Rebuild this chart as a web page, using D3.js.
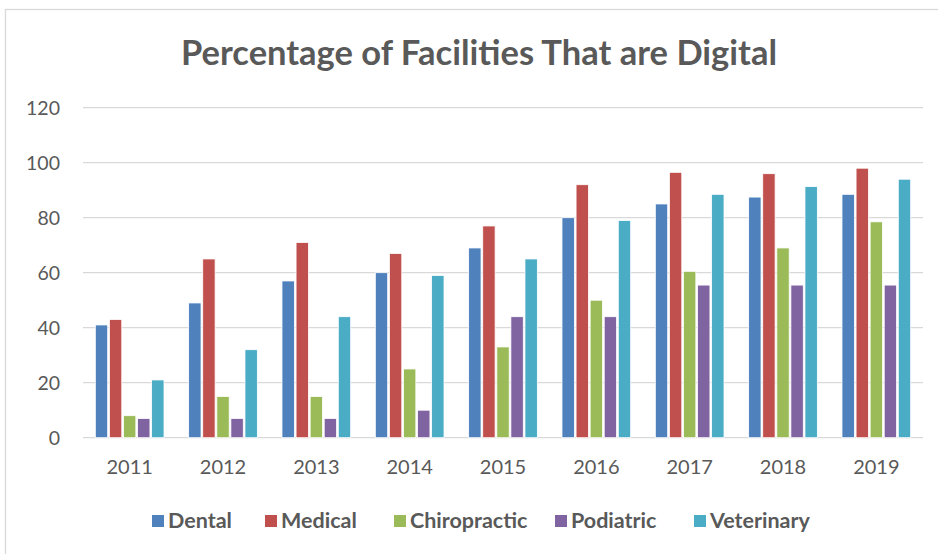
<!DOCTYPE html>
<html>
<head>
<meta charset="utf-8">
<script src="https://cdn.jsdelivr.net/npm/d3@7"></script>
<style>
  body { margin: 0; background: #fff; }
  text { font-family: Lato, "Open Sans", sans-serif; fill: #595959; }
</style>
</head>
<body>
<svg id="chart" width="938" height="554"></svg>
<script>
var years = ["2011", "2012", "2013", "2014", "2015", "2016", "2017", "2018", "2019"]
var series = ["Dental", "Medical", "Chiropractic", "Podiatric", "Veterinary"]
var colors = ["#4F81BD", "#C0504D", "#9BBB59", "#8064A2", "#4BACC6"]
var dental = [41, 49, 57, 60, 69, 80, 85, 87.5, 88.5]
var medical = [43, 65, 71, 67, 77, 92, 96.5, 96, 98]
var chiropractic = [8, 15, 15, 25, 33, 50, 60.5, 69, 78.5]
var podiatric = [7, 7, 7, 10, 44, 44, 55.5, 55.5, 55.5]
var veterinary = [21, 32, 44, 59, 65, 79, 88.5, 91.3, 94]
var yTicks = [0, 20, 40, 60, 80, 100, 120]

var values = [dental, medical, chiropractic, podiatric, veterinary]
var table = years.map(function(y, i) {
  return { year: y, vals: series.map(function(s, k) { return { key: s, value: values[k][i] }; }) };
});

var svg = d3.select("#chart"),
    margin = {top: 107.7, right: 15, bottom: 116.3, left: 83},
    width = 938 - margin.left - margin.right,
    height = 554 - margin.top - margin.bottom;

// outer frame
svg.append("rect")
  .attr("x", 5.5).attr("y", 9.5)
  .attr("width", 945).attr("height", 560)
  .attr("fill", "none").attr("stroke", "#d9d9d9").attr("stroke-width", 1.3);

svg.append("text")
  .attr("x", 479).attr("y", 65)
  .attr("text-anchor", "middle")
  .style("font-size", "34.5px").style("font-weight", "bold")
  .text("Percentage of Facilities That are Digital");

var g = svg.append("g").attr("transform", "translate(" + margin.left + "," + margin.top + ")");

var x0 = d3.scaleBand().domain(years).range([0, width]).paddingInner(0.264).paddingOuter(0.132),
    x1 = d3.scaleBand().domain(series).range([0, x0.bandwidth()]).paddingInner(0.12),
    y = d3.scaleLinear().domain([0, 120]).range([height, 0]),
    z = d3.scaleOrdinal().domain(series).range(colors);

// gridlines
g.selectAll(".grid").data(yTicks).enter().append("line")
  .attr("x1", 0).attr("x2", width)
  .attr("y1", function(d) { return y(d); }).attr("y2", function(d) { return y(d); })
  .attr("stroke", "#d9d9d9").attr("stroke-width", 1.3);

var yAxis = g.append("g").call(d3.axisLeft(y).tickValues(yTicks).tickSize(0).tickPadding(23));
yAxis.select(".domain").remove();
yAxis.selectAll("text").style("font-size", "19.5px").attr("fill", "#595959").attr("dy", "0.35em");

var xAxis = g.append("g").attr("transform", "translate(0," + height + ")")
  .call(d3.axisBottom(x0).tickSize(0).tickPadding(22));
xAxis.select(".domain").remove();
xAxis.selectAll("text").style("font-size", "20px").attr("fill", "#595959");

g.selectAll(".group").data(table).enter().append("g")
  .attr("transform", function(d) { return "translate(" + x0(d.year) + ",0)"; })
  .selectAll("rect").data(function(d) { return d.vals; }).enter().append("rect")
  .attr("x", function(d) { return x1(d.key); })
  .attr("width", x1.bandwidth())
  .attr("y", function(d) { return y(d.value); })
  .attr("height", function(d) { return height - y(d.value); })
  .attr("fill", function(d) { return z(d.key); })
  .attr("stroke", "#fff").attr("stroke-width", 0.8);

// legend
var legendX = [152, 265, 394, 555, 694];
var legend = svg.append("g").selectAll("g").data(series).enter().append("g")
  .attr("transform", function(d, i) { return "translate(" + legendX[i] + ",515)"; });
legend.append("rect").attr("width", 12).attr("height", 12)
  .attr("fill", function(d) { return z(d); });
legend.append("text").attr("x", 16).attr("y", 13)
  .style("font-size", "21.5px").style("font-weight", "bold")
  .text(function(d) { return d; });
</script>
</body>
</html>
